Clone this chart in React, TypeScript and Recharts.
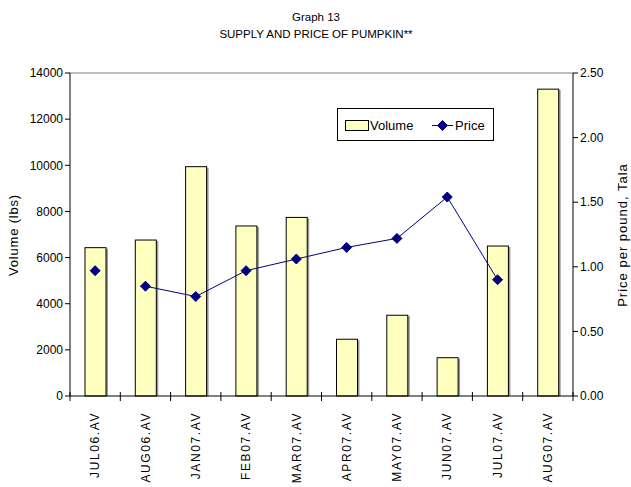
import {
  Bar,
  ComposedChart,
  Legend,
  Line,
  ReferenceLine,
  XAxis,
  YAxis,
} from "recharts";

const months = [
  "JUL06.AV",
  "AUG06.AV",
  "JAN07.AV",
  "FEB07.AV",
  "MAR07.AV",
  "APR07.AV",
  "MAY07.AV",
  "JUN07.AV",
  "JUL07.AV",
  "AUG07.AV",
];
const volume = [6430, 6760, 9940, 7370, 7740, 2460, 3500, 1660, 6500, 13300];
// JUL06 price stands alone in the source (no line into AUG06)
const price = [0.97, 0.85, 0.77, 0.97, 1.06, 1.15, 1.22, 1.54, 0.9, null];
const volumeTicks = [0, 2000, 4000, 6000, 8000, 10000, 12000, 14000];
const priceTicks = [0, 0.5, 1, 1.5, 2, 2.5];

const data = months.map((m, i) => ({
  month: m,
  volume: volume[i],
  price: i === 0 ? null : price[i],
  priceSolo: i === 0 ? price[i] : null,
}));

const FONT = "'Liberation Sans', Arial, sans-serif";
const NAVY = "#000080";
const BAND = 503 / months.length;

function Diamond(props: any) {
  const { cx, cy } = props;
  if (cx == null || cy == null) return null;
  const r = 5;
  return (
    <polygon
      points={`${cx},${cy - r} ${cx + r},${cy} ${cx},${cy + r} ${cx - r},${cy}`}
      fill={NAVY}
      stroke={NAVY}
    />
  );
}

function ShadowBar(props: any) {
  const { x, y, width, height } = props;
  return (
    <g>
      <rect x={x + 2} y={y + 1} width={width} height={height - 1} fill="#9a9a9a" />
      <rect x={x} y={y} width={width} height={height} fill="#FFFFC0" stroke="#000" strokeWidth={1} />
    </g>
  );
}

function MonthTick(props: any) {
  const { x, y, payload, index } = props;
  const left = x - BAND / 2;
  return (
    <g>
      <line x1={left} x2={left} y1={y - 4} y2={y + 5} stroke="#000" />
      {index === months.length - 1 && (
        <line x1={x + BAND / 2} x2={x + BAND / 2} y1={y - 4} y2={y + 5} stroke="#000" />
      )}
      <text
        transform={`translate(${x},${y + 16}) rotate(-90)`}
        textAnchor="end"
        dy="0.35em"
        fontSize={12}
        letterSpacing={1.6}
        fill="#000"
        fontFamily={FONT}
      >
        {payload.value}
      </text>
    </g>
  );
}

function renderLegend() {
  return (
    <svg width={157} height={33} style={{ display: "block", overflow: "visible" }}>
      <rect x={0.5} y={0.5} width={156} height={32} fill="#fff" stroke="#000" />
      <rect x={8.5} y={12.5} width={23} height={10} fill="#FFFFC0" stroke="#000" />
      <text x={33} y={22} fontSize={13} fontFamily={FONT} fill="#000">
        Volume
      </text>
      <line x1={95} x2={116} y1={17.5} y2={17.5} stroke={NAVY} />
      <Diamond cx={105.5} cy={17.5} />
      <text x={118} y={22} fontSize={13} fontFamily={FONT} fill="#000">
        Price
      </text>
    </svg>
  );
}

export default function App() {
  return (
    <div
      style={{
        position: "absolute",
        left: 0,
        top: 0,
        width: 631,
        height: 487,
        background: "#fff",
        fontFamily: FONT,
      }}
    >
      <ComposedChart
        width={631}
        height={487}
        data={data}
        margin={{ top: 73, right: 10, bottom: 0, left: 10 }}
        barSize={21}
      >
        <XAxis
          dataKey="month"
          height={91}
          interval={0}
          tickLine={false}
          tickSize={0}
          tickMargin={0}
          tick={<MonthTick />}
          axisLine={{ stroke: "#000" }}
        />
        <YAxis
          yAxisId="left"
          width={60}
          domain={[0, 14000]}
          ticks={volumeTicks}
          interval={0}
          tick={{ fontSize: 12, fill: "#000", fontFamily: FONT }}
          tickSize={5}
          axisLine={{ stroke: "#000" }}
          tickLine={{ stroke: "#000" }}
        />
        <YAxis
          yAxisId="right"
          orientation="right"
          width={48}
          domain={[0, 2.5]}
          ticks={priceTicks}
          interval={0}
          tickFormatter={(v: number) => v.toFixed(2)}
          tick={{ fontSize: 12, fill: "#000", fontFamily: FONT }}
          tickSize={5}
          axisLine={{ stroke: "#000" }}
          tickLine={{ stroke: "#000" }}
        />
        <ReferenceLine yAxisId="left" y={14000} stroke="#aaa" strokeWidth={1.5} />
        <Bar
          yAxisId="left"
          dataKey="volume"
          name="Volume"
          shape={<ShadowBar />}
          isAnimationActive={false}
        />
        <Line
          yAxisId="right"
          dataKey="price"
          name="Price"
          stroke={NAVY}
          strokeWidth={1}
          dot={<Diamond />}
          activeDot={false}
          isAnimationActive={false}
        />
        <Line
          yAxisId="right"
          dataKey="priceSolo"
          legendType="none"
          stroke="none"
          dot={<Diamond />}
          activeDot={false}
          isAnimationActive={false}
        />
        <Legend
          content={renderLegend}
          wrapperStyle={{ left: 337, top: 108, width: 157, height: 0, overflow: "visible" }}
        />
      </ComposedChart>
      <svg
        width={631}
        height={487}
        style={{ position: "absolute", left: 0, top: 0, pointerEvents: "none" }}
      >
        <text x={316} y={21} textAnchor="middle" fontSize={11.5} fontFamily={FONT} fill="#000">
          Graph 13
        </text>
        <text x={316} y={38} textAnchor="middle" fontSize={11.5} fontFamily={FONT} fill="#000">
          SUPPLY AND PRICE OF PUMPKIN**
        </text>
        <text
          transform="translate(13,235) rotate(-90)"
          textAnchor="middle"
          dy="0.35em"
          fontSize={13}
          letterSpacing={0.8}
          fontFamily={FONT}
          fill="#000"
        >
          Volume (lbs)
        </text>
        <text
          transform="translate(622,235) rotate(-90)"
          textAnchor="middle"
          dy="0.35em"
          fontSize={13}
          letterSpacing={1}
          fontFamily={FONT}
          fill="#000"
        >
          Price per pound, Tala
        </text>
      </svg>
    </div>
  );
}
